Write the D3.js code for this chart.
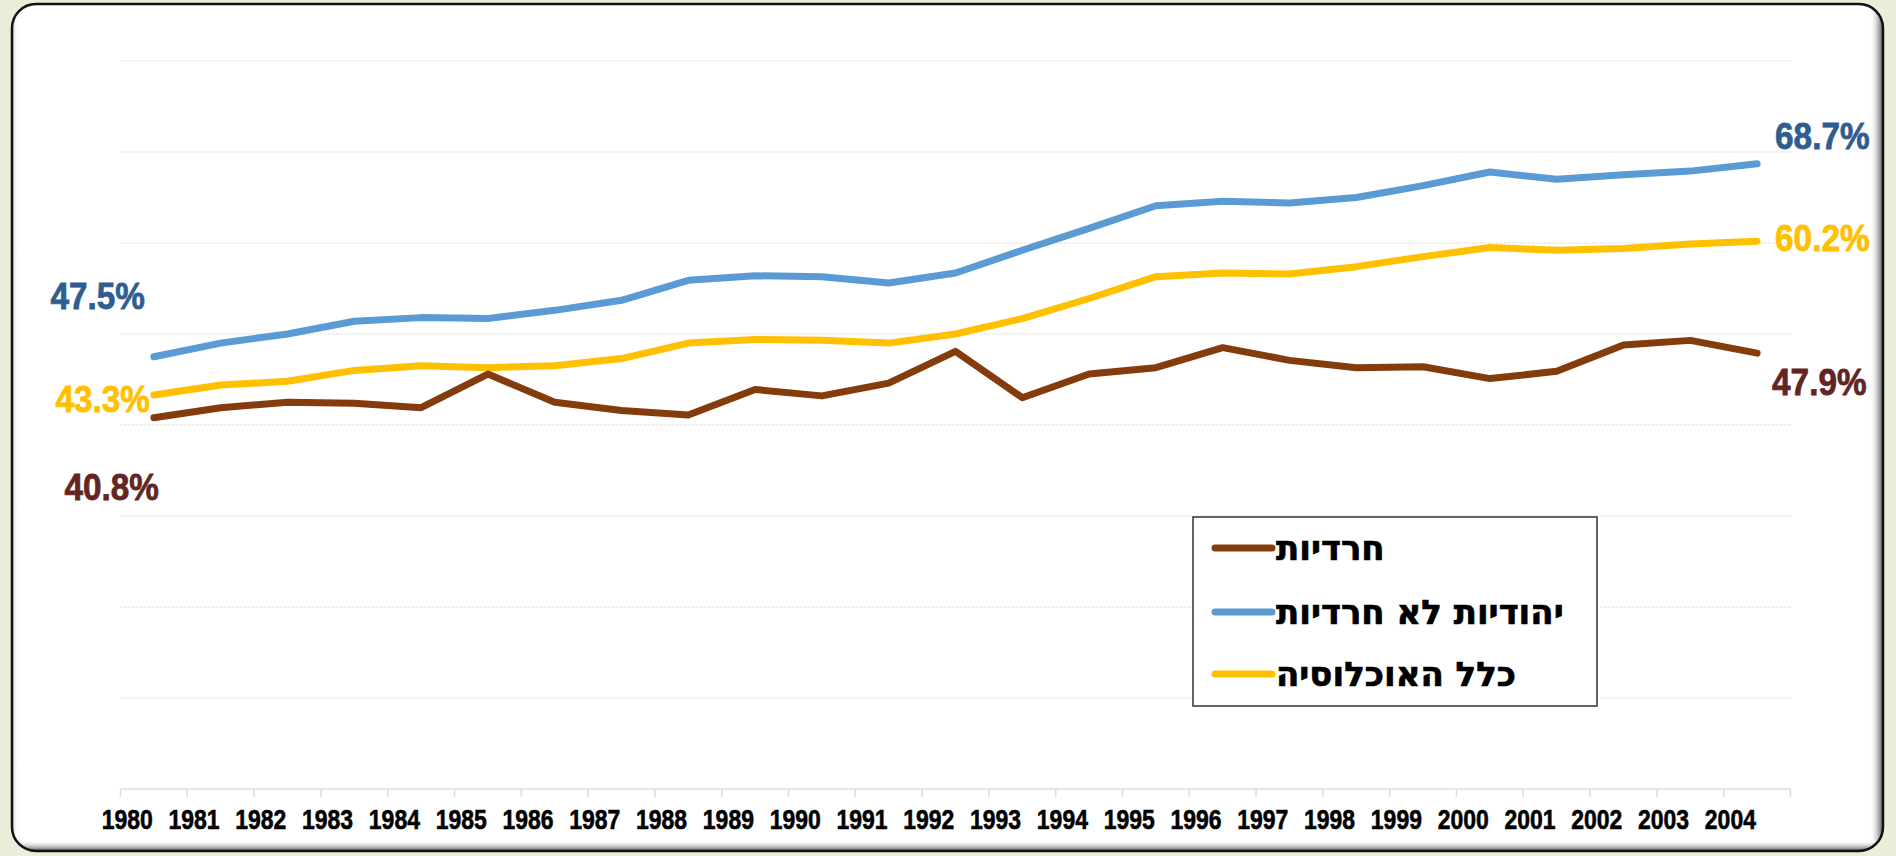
<!DOCTYPE html>
<html>
<head>
<meta charset="utf-8">
<script src="https://cdn.jsdelivr.net/npm/d3@7"></script>
<style>
  html, body { margin: 0; padding: 0; background: #EAEED8; }
  svg { display: block; }
</style>
</head>
<body>
<svg id="chart" width="1896" height="856"></svg>
<script>
// ---------- DATA ----------
const years = ["1980","1981","1982","1983","1984","1985","1986","1987","1988","1989","1990","1991","1992",
               "1993","1994","1995","1996","1997","1998","1999","2000","2001","2002","2003","2004"];
const seriesNames = ["חרדיות", "יהודיות לא חרדיות", "כלל האוכלוסיה"];
const haredi    = [40.8, 41.9, 42.5, 42.4, 41.9, 45.6, 42.5, 41.6, 41.1, 43.9, 43.2, 44.6, 48.1,
                   43.0, 45.6, 46.3, 48.5, 47.1, 46.3, 46.4, 45.1, 45.9, 48.8, 49.3, 47.9];
const nonHaredi = [47.5, 49.0, 50.0, 51.4, 51.8, 51.7, 52.6, 53.7, 55.9, 56.4, 56.3, 55.6, 56.7,
                   59.2, 61.6, 64.1, 64.6, 64.4, 65.0, 66.3, 67.8, 67.0, 67.5, 67.9, 68.7];
const total     = [43.3, 44.4, 44.8, 46.0, 46.5, 46.3, 46.5, 47.3, 49.0, 49.4, 49.3, 49.0, 50.0,
                   51.7, 53.9, 56.3, 56.7, 56.6, 57.4, 58.5, 59.5, 59.2, 59.4, 59.9, 60.2];
const yTicks = [0, 10, 20, 30, 40, 50, 60, 70, 80];

// ---------- LAYOUT ----------
const W = 1896, H = 856;
const svg = d3.select("#chart");
const defs = svg.append("defs");

const panel = {x: 12, y: 4, w: 1871, h: 847, r: 24};
defs.append("clipPath").attr("id", "panelClip")
  .append("rect").attr("x", panel.x).attr("y", panel.y).attr("width", panel.w).attr("height", panel.h)
  .attr("rx", panel.r).attr("ry", panel.r);

function grad(id, x1, y1, x2, y2, col, op) {
  const g = defs.append("linearGradient").attr("id", id).attr("x1", x1).attr("y1", y1).attr("x2", x2).attr("y2", y2);
  g.append("stop").attr("offset", 0).attr("stop-color", "#fff").attr("stop-opacity", 0);
  g.append("stop").attr("offset", 1).attr("stop-color", col).attr("stop-opacity", op);
}
grad("shR", 0, 0, 1, 0, "#444", 0.95);
grad("shB", 0, 0, 0, 1, "#444", 0.95);
grad("shL", 1, 0, 0, 0, "#888", 0.5);

svg.append("rect").attr("width", W).attr("height", H).attr("fill", "#EAEED8");
svg.append("rect").attr("x", panel.x).attr("y", panel.y).attr("width", panel.w).attr("height", panel.h)
  .attr("rx", panel.r).attr("ry", panel.r).attr("fill", "#fff");
const shade = svg.append("g").attr("clip-path", "url(#panelClip)");
shade.append("rect").attr("x", panel.x + panel.w - 13).attr("y", panel.y).attr("width", 13).attr("height", panel.h).attr("fill", "url(#shR)");
shade.append("rect").attr("x", panel.x).attr("y", panel.y + panel.h - 11).attr("width", panel.w).attr("height", 11).attr("fill", "url(#shB)");
shade.append("rect").attr("x", panel.x).attr("y", panel.y).attr("width", 6).attr("height", panel.h).attr("fill", "url(#shL)");
svg.append("rect").attr("x", panel.x).attr("y", panel.y).attr("width", panel.w).attr("height", panel.h)
  .attr("rx", panel.r).attr("ry", panel.r).attr("fill", "none").attr("stroke", "#111").attr("stroke-width", 2.5);

// scales
const x = d3.scaleBand().domain(years).range([120.5, 1790.5]).paddingInner(0).paddingOuter(0);
const y = d3.scaleLinear().domain([0, 80]).range([789, 61]);
const cx = d => x(d) + x.bandwidth() / 2;

// gridlines
svg.append("g").selectAll("line").data(yTicks.filter(t => t > 0)).join("line")
  .attr("x1", x.range()[0]).attr("x2", x.range()[1])
  .attr("y1", d => y(d)).attr("y2", d => y(d))
  .attr("stroke", "#e2e2e2").attr("stroke-width", 1.3).attr("stroke-dasharray", "2,2");

// x axis
const xAxis = svg.append("g").attr("transform", `translate(0,${y(0)})`);
xAxis.append("line").attr("x1", x.range()[0]).attr("x2", x.range()[1]).attr("stroke", "#dcdcdc").attr("stroke-width", 1.5);
const tickPos = years.map(d => x(d)).concat([x.range()[1]]);
xAxis.selectAll("line.tk").data(tickPos).join("line").attr("class", "tk")
  .attr("x1", d => d).attr("x2", d => d).attr("y1", 0).attr("y2", 8)
  .attr("stroke", "#dcdcdc").attr("stroke-width", 1.5);
xAxis.selectAll("text").data(years).join("text")
  .attr("transform", d => `translate(${x(d) + x.bandwidth() * 0.1},40) scale(0.82,1)`)
  .attr("text-anchor", "middle")
  .attr("font-family", "'Liberation Sans', Arial, sans-serif")
  .attr("font-weight", "bold")
  .attr("font-size", 28)
  .attr("fill", "#000")
  .attr("stroke", "#000").attr("stroke-width", 0.6)
  .text(d => d);

// lines
const colors = ["#843C0C", "#5B9BD5", "#FFC000"];
const labelColors = ["#632523", "#2F5D8F", "#FFC000"];
const allSeries = [haredi, nonHaredi, total];
const line = d3.line().x((d, i) => cx(years[i])).y(d => y(d));
const drawOrder = [1, 2, 0];
svg.append("g").selectAll("path").data(drawOrder).join("path")
  .attr("d", k => line(allSeries[k]))
  .attr("fill", "none")
  .attr("stroke", k => colors[k])
  .attr("stroke-width", 7)
  .attr("stroke-linejoin", "round")
  .attr("stroke-linecap", "round");

// end labels
const fmt = v => v.toFixed(1) + "%";
const last = years.length - 1;
const startLbl = [{dx: 5, dy: 82}, {dx: -9, dy: -48}, {dx: -4, dy: 17}];
const endLbl = [{dx: 15, dy: 42}, {dx: 18, dy: -15}, {dx: 18, dy: 10}];
const lblG = svg.append("g")
  .attr("font-family", "'Liberation Sans', Arial, sans-serif")
  .attr("font-weight", "bold").attr("font-size", 37);
allSeries.forEach((s, k) => {
  lblG.append("text")
    .attr("transform", `translate(${cx(years[0]) + startLbl[k].dx},${y(s[0]) + startLbl[k].dy}) scale(0.9,1)`)
    .attr("text-anchor", "end")
    .attr("fill", labelColors[k]).attr("stroke", labelColors[k]).attr("stroke-width", 0.8)
    .text(fmt(s[0]));
  lblG.append("text")
    .attr("transform", `translate(${cx(years[last]) + endLbl[k].dx},${y(s[last]) + endLbl[k].dy}) scale(0.9,1)`)
    .attr("text-anchor", "start")
    .attr("fill", labelColors[k]).attr("stroke", labelColors[k]).attr("stroke-width", 0.8)
    .text(fmt(s[last]));
});

// legend
const leg = svg.append("g");
leg.append("rect").attr("x", 1193).attr("y", 517).attr("width", 404).attr("height", 189)
  .attr("fill", "#fff").attr("stroke", "#333").attr("stroke-width", 1.5);
const legRows = [548, 612, 674];
seriesNames.forEach((n, k) => {
  leg.append("line").attr("x1", 1215).attr("x2", 1272).attr("y1", legRows[k]).attr("y2", legRows[k])
    .attr("stroke", colors[k]).attr("stroke-width", 7).attr("stroke-linecap", "round");
  leg.append("text").attr("x", 1276).attr("y", legRows[k] + 12)
    .attr("font-family", "'DejaVu Sans', sans-serif")
    .attr("font-weight", "bold").attr("font-size", 34)
    .attr("fill", "#000").attr("stroke", "#000").attr("stroke-width", 0.7)
    .text(n);
});
</script>
</body>
</html>
